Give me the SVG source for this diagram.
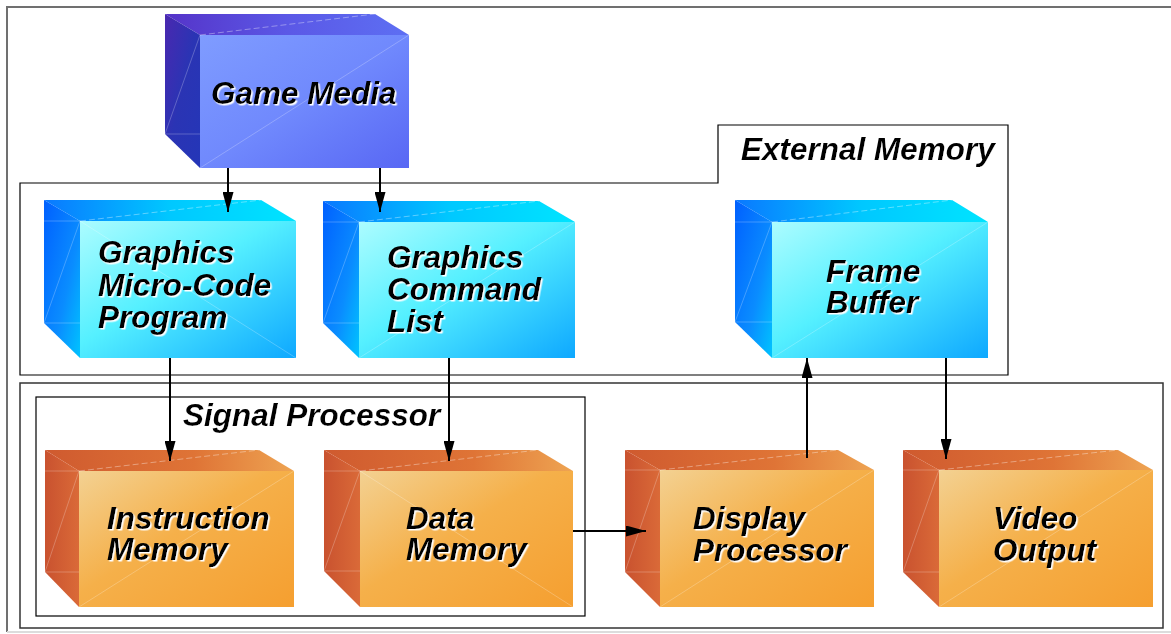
<svg xmlns="http://www.w3.org/2000/svg" width="1171" height="634" viewBox="0 0 1171 634">
  <defs>
    <!-- blue block -->
    <linearGradient id="bFront" x1="0" y1="0" x2="1" y2="1">
      <stop offset="0" stop-color="#7f9cff"/>
      <stop offset="0.5" stop-color="#7089fd"/>
      <stop offset="1" stop-color="#5867f4"/>
    </linearGradient>
    <linearGradient id="bTop" x1="0" y1="0" x2="1" y2="0">
      <stop offset="0" stop-color="#5533c8"/>
      <stop offset="0.5" stop-color="#5b58e6"/>
      <stop offset="1" stop-color="#5d6ff3"/>
    </linearGradient>
    <linearGradient id="bLeft" x1="0" y1="0" x2="1" y2="1">
      <stop offset="0" stop-color="#4a28b0"/>
      <stop offset="0.5" stop-color="#2a34b4"/>
      <stop offset="1" stop-color="#2436b8"/>
    </linearGradient>
    <!-- cyan block -->
    <linearGradient id="cFront" x1="0" y1="0" x2="1" y2="1">
      <stop offset="0" stop-color="#acfcff"/>
      <stop offset="0.45" stop-color="#55f0ff"/>
      <stop offset="1" stop-color="#0ea8ff"/>
    </linearGradient>
    <linearGradient id="cTop" x1="0" y1="0" x2="1" y2="0">
      <stop offset="0" stop-color="#0a78ff"/>
      <stop offset="0.5" stop-color="#00c8ff"/>
      <stop offset="1" stop-color="#00e4ff"/>
    </linearGradient>
    <linearGradient id="cLeft" x1="0" y1="0" x2="1" y2="1">
      <stop offset="0" stop-color="#0060ff"/>
      <stop offset="0.6" stop-color="#0a8cff"/>
      <stop offset="1" stop-color="#00c4ff"/>
    </linearGradient>
    <!-- orange block -->
    <linearGradient id="oFront" x1="0" y1="0" x2="1" y2="1">
      <stop offset="0" stop-color="#f3d192"/>
      <stop offset="0.45" stop-color="#f5b04a"/>
      <stop offset="1" stop-color="#f59f30"/>
    </linearGradient>
    <linearGradient id="oTop" x1="0" y1="0" x2="1" y2="0">
      <stop offset="0" stop-color="#cf5a2f"/>
      <stop offset="0.6" stop-color="#df7436"/>
      <stop offset="1" stop-color="#eea452"/>
    </linearGradient>
    <linearGradient id="oLeft" x1="0" y1="0" x2="1" y2="0">
      <stop offset="0" stop-color="#c9522f"/>
      <stop offset="1" stop-color="#da6a38"/>
    </linearGradient>
    <filter id="halo" x="-5%" y="-20%" width="115%" height="150%">
      <feDropShadow dx="1.5" dy="1.5" stdDeviation="0" flood-color="#ffffff" flood-opacity="1"/>
    </filter>
    <marker id="arrow" viewBox="0 0 20 11" refX="20" refY="5.5" markerWidth="20" markerHeight="11" markerUnits="userSpaceOnUse" orient="auto">
      <path d="M0,0 L20,5.5 L0,11 Z" fill="#000"/>
    </marker>
  </defs>
  <style>
    .label { font-family: "Liberation Sans", Arial, sans-serif; font-weight: bold; font-style: italic; font-size: 31.5px; fill: #000; filter: url(#halo); }
    .frame { fill: none; }
    .blue .front { fill: url(#bFront); }
    .blue .top { fill: url(#bTop); }
    .blue .left { fill: url(#bLeft); }
    .cyan .front { fill: url(#cFront); }
    .cyan .top { fill: url(#cTop); }
    .cyan .left { fill: url(#cLeft); }
    .orange .front { fill: url(#oFront); }
    .orange .top { fill: url(#oTop); }
    .orange .left { fill: url(#oLeft); }
    .crease { fill: none; stroke: #ffffff; stroke-opacity: 0.3; stroke-width: 0.8; }
    .dash { stroke-dasharray: 6 3; stroke-opacity: 0.45; }
    .conn line { stroke: #000; stroke-width: 2; marker-end: url(#arrow); }
  </style>

  <!-- page frame -->
  <g id="page" class="frame">
    <path d="M7,632 V7 H1171" stroke="#707070" stroke-width="2"/>
    <path d="M7,632 H1171" stroke="#dcdcdc" stroke-width="2"/>
  </g>

  <!-- region outlines -->
  <g id="external-memory" class="frame">
    <path d="M20,183 H718 V125 H1008 V375 H20 Z" stroke="#000" stroke-width="1.2"/>
    <text class="label" x="741" y="160">External Memory</text>
  </g>
  <g id="processing-unit" class="frame">
    <rect x="20" y="383" width="1143" height="245" stroke="#333" stroke-width="1.5"/>
  </g>
  <g id="signal-processor" class="frame">
    <rect x="36" y="397" width="549" height="219" stroke="#000" stroke-width="1.2"/>
    <text class="label" x="183" y="426">Signal Processor</text>
  </g>

  <!-- blocks -->
  <g id="game-media" class="node blue">
    <polygon class="top" points="165,14 375,14 409,35 200,35"/>
    <polygon class="left" points="165,14 200,35 200,168 165,134"/>
    <rect class="front" x="200" y="35" width="209" height="133"/>
    <path class="crease" d="M200,168 L409,35 M165,134 L200,35 M165,134 H200"/>
    <path class="crease dash" d="M200,35 L375,14"/>
    <text class="label" x="211" y="104">Game Media</text>
  </g>

  <g id="micro-code" class="node cyan">
    <polygon class="top" points="44,200 261,200 296,221 80,221"/>
    <polygon class="left" points="44,200 80,221 80,358 44,323"/>
    <rect class="front" x="80" y="221" width="216" height="137"/>
    <path class="crease" d="M80,221 L296,358 M44,323 L80,221 M44,221 H80 M44,323 H80"/>
    <path class="crease dash" d="M80,221 L261,200"/>
    <text class="label" x="98" y="263">Graphics</text>
    <text class="label" x="98" y="296">Micro-Code</text>
    <text class="label" x="98" y="328">Program</text>
  </g>

  <g id="command-list" class="node cyan">
    <polygon class="top" points="323,201 539,201 575,222 359,222"/>
    <polygon class="left" points="323,201 359,222 359,358 323,323"/>
    <rect class="front" x="359" y="222" width="216" height="136"/>
    <path class="crease" d="M359,358 L575,222 M323,323 L359,222 M323,222 H359 M323,323 H359"/>
    <path class="crease dash" d="M359,222 L539,201"/>
    <text class="label" x="387" y="268">Graphics</text>
    <text class="label" x="387" y="300">Command</text>
    <text class="label" x="387" y="332">List</text>
  </g>

  <g id="frame-buffer" class="node cyan">
    <polygon class="top" points="735,200 952,200 988,222 772,222"/>
    <polygon class="left" points="735,200 772,222 772,358 735,322"/>
    <rect class="front" x="772" y="222" width="216" height="136"/>
    <path class="crease" d="M772,358 L988,222 M735,322 L772,222 M735,222 H772 M735,322 H772"/>
    <path class="crease dash" d="M772,222 L952,200"/>
    <text class="label" x="826" y="282">Frame</text>
    <text class="label" x="826" y="313">Buffer</text>
  </g>

  <g id="instruction-memory" class="node orange">
    <polygon class="top" points="45,450 259,450 294,471 79,471"/>
    <polygon class="left" points="45,450 79,471 79,607 45,572"/>
    <rect class="front" x="79" y="471" width="215" height="136"/>
    <path class="crease" d="M79,607 L294,471 M45,572 L79,471 M45,471 H79 M45,572 H79"/>
    <path class="crease dash" d="M79,471 L259,450"/>
    <text class="label" x="107" y="529">Instruction</text>
    <text class="label" x="107" y="560">Memory</text>
  </g>

  <g id="data-memory" class="node orange">
    <polygon class="top" points="324,450 538,450 573,471 360,471"/>
    <polygon class="left" points="324,450 360,471 360,607 324,571"/>
    <rect class="front" x="360" y="471" width="213" height="136"/>
    <path class="crease" d="M360,471 L573,607 M324,571 L360,471 M324,471 H360 M324,571 H360"/>
    <path class="crease dash" d="M360,471 L538,450"/>
    <text class="label" x="406" y="529">Data</text>
    <text class="label" x="406" y="560">Memory</text>
  </g>

  <g id="display-processor" class="node orange">
    <polygon class="top" points="625,450 838,450 874,470 660,470"/>
    <polygon class="left" points="625,450 660,470 660,607 625,572"/>
    <rect class="front" x="660" y="470" width="214" height="137"/>
    <path class="crease" d="M660,607 L874,470 M625,572 L660,470 M625,470 H660 M625,572 H660"/>
    <path class="crease dash" d="M660,470 L838,450"/>
    <text class="label" x="693" y="529">Display</text>
    <text class="label" x="693" y="561">Processor</text>
  </g>

  <g id="video-output" class="node orange">
    <polygon class="top" points="903,450 1118,450 1153,470 939,470"/>
    <polygon class="left" points="903,450 939,470 939,607 903,572"/>
    <rect class="front" x="939" y="470" width="214" height="137"/>
    <path class="crease" d="M939,607 L1153,470 M903,572 L939,470 M903,470 H939 M903,572 H939"/>
    <path class="crease dash" d="M939,470 L1118,450"/>
    <text class="label" x="993" y="529">Video</text>
    <text class="label" x="993" y="561">Output</text>
  </g>

  <!-- data flow -->
  <g id="connectors" class="conn">
    <line x1="228" y1="168" x2="228" y2="212"/>
    <line x1="380" y1="168" x2="380" y2="212"/>
    <line x1="170" y1="358" x2="170" y2="461"/>
    <line x1="449" y1="358" x2="449" y2="461"/>
    <line x1="573" y1="531" x2="646" y2="531"/>
    <line x1="807" y1="458" x2="807" y2="358"/>
    <line x1="946" y1="358" x2="946" y2="459"/>
  </g>
</svg>
